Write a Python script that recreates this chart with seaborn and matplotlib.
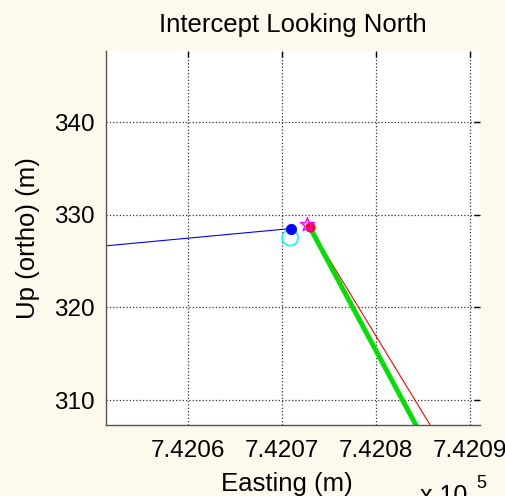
import numpy as np
import pandas as pd
import seaborn as sns
import matplotlib.pyplot as plt

# Track data (easting in m, up in m)
blue_east = [742040.0, 742070.96]
blue_up = [325.59, 328.52]

green_east = [742072.98, 742085.5]
green_up = [328.68, 305.0]

red_east = [742072.98, 742087.0]
red_up = [328.68, 305.3]

# Single point markers
blue_dot = (742070.96, 328.52)
cyan_ring = (742070.9, 327.53)
magenta_star = (742072.74, 328.93)
red_dot = (742072.98, 328.68)

x_ticks = [742060, 742070, 742080, 742090]
y_ticks = [310, 320, 330, 340]

sns.set_theme(style="white")
plt.rcParams['font.family'] = ['Liberation Sans', 'DejaVu Sans']
plt.rcParams['text.color'] = 'black'
plt.rcParams['axes.labelcolor'] = 'black'
plt.rcParams['xtick.color'] = 'black'
plt.rcParams['ytick.color'] = 'black'

bg = '#FDF9EC'
fig = plt.figure(figsize=(5.06, 4.96), dpi=100, facecolor=bg)
ax = fig.add_axes([0.2095, 0.1431, 0.739, 0.754])
ax.set_facecolor('white')

sns.lineplot(x=blue_east, y=blue_up, ax=ax, color='blue', linewidth=0.8, sort=False)
sns.lineplot(x=red_east, y=red_up, ax=ax, color='red', linewidth=0.8, sort=False)
sns.lineplot(x=green_east, y=green_up, ax=ax, color='#00E000', linewidth=3.5, sort=False)

sns.scatterplot(x=[cyan_ring[0]], y=[cyan_ring[1]], ax=ax, s=130, marker='o',
                facecolor='none', edgecolor='cyan', linewidth=1.2, zorder=5)
sns.scatterplot(x=[blue_dot[0]], y=[blue_dot[1]], ax=ax, s=55, marker='o',
                color='blue', edgecolor='blue', zorder=6)
sns.scatterplot(x=[red_dot[0]], y=[red_dot[1]], ax=ax, s=45, marker='o',
                color='red', edgecolor='red', zorder=6)
sns.scatterplot(x=[magenta_star[0]], y=[magenta_star[1]], ax=ax, s=110, marker='*',
                facecolor='none', edgecolor='magenta', linewidth=1.0, zorder=7)

ax.set_xlim(742051.3, 742091.1)
ax.set_ylim(307.3, 347.7)
ax.set_xticks(x_ticks)
ax.set_xticklabels([f"{v / 1e5:.4f}" for v in x_ticks])
ax.set_yticks(y_ticks)
ax.grid(True, color='#333333', linestyle=':', linewidth=0.9)

for side in ['top', 'right']:
    ax.spines[side].set_visible(False)
for side in ['left', 'bottom']:
    ax.spines[side].set_color('#555555')
    ax.spines[side].set_linewidth(1.0)

ax.tick_params(axis='both', direction='in', length=4, width=1,
               labelsize=17.5, top=True, right=True, pad=8)
ax.tick_params(axis='x', pad=11)

ax.set_title("Intercept Looking North", fontsize=18.5, pad=14)
ax.set_xlabel("Easting (m)", fontsize=18.5)
ax.xaxis.set_label_coords(0.485, -0.125)
ax.set_ylabel("Up (ortho) (m)", fontsize=18.5, labelpad=10)

# MATLAB-style exponent, mostly cut off by the bottom edge
ax.text(0.84, -0.209, "x 10", transform=ax.transAxes, fontsize=18,
        ha='left', va='baseline')
ax.text(0.991, -0.168, "5", transform=ax.transAxes, fontsize=13,
        ha='left', va='baseline')

fig.savefig("out.png", dpi=100, facecolor=bg)
